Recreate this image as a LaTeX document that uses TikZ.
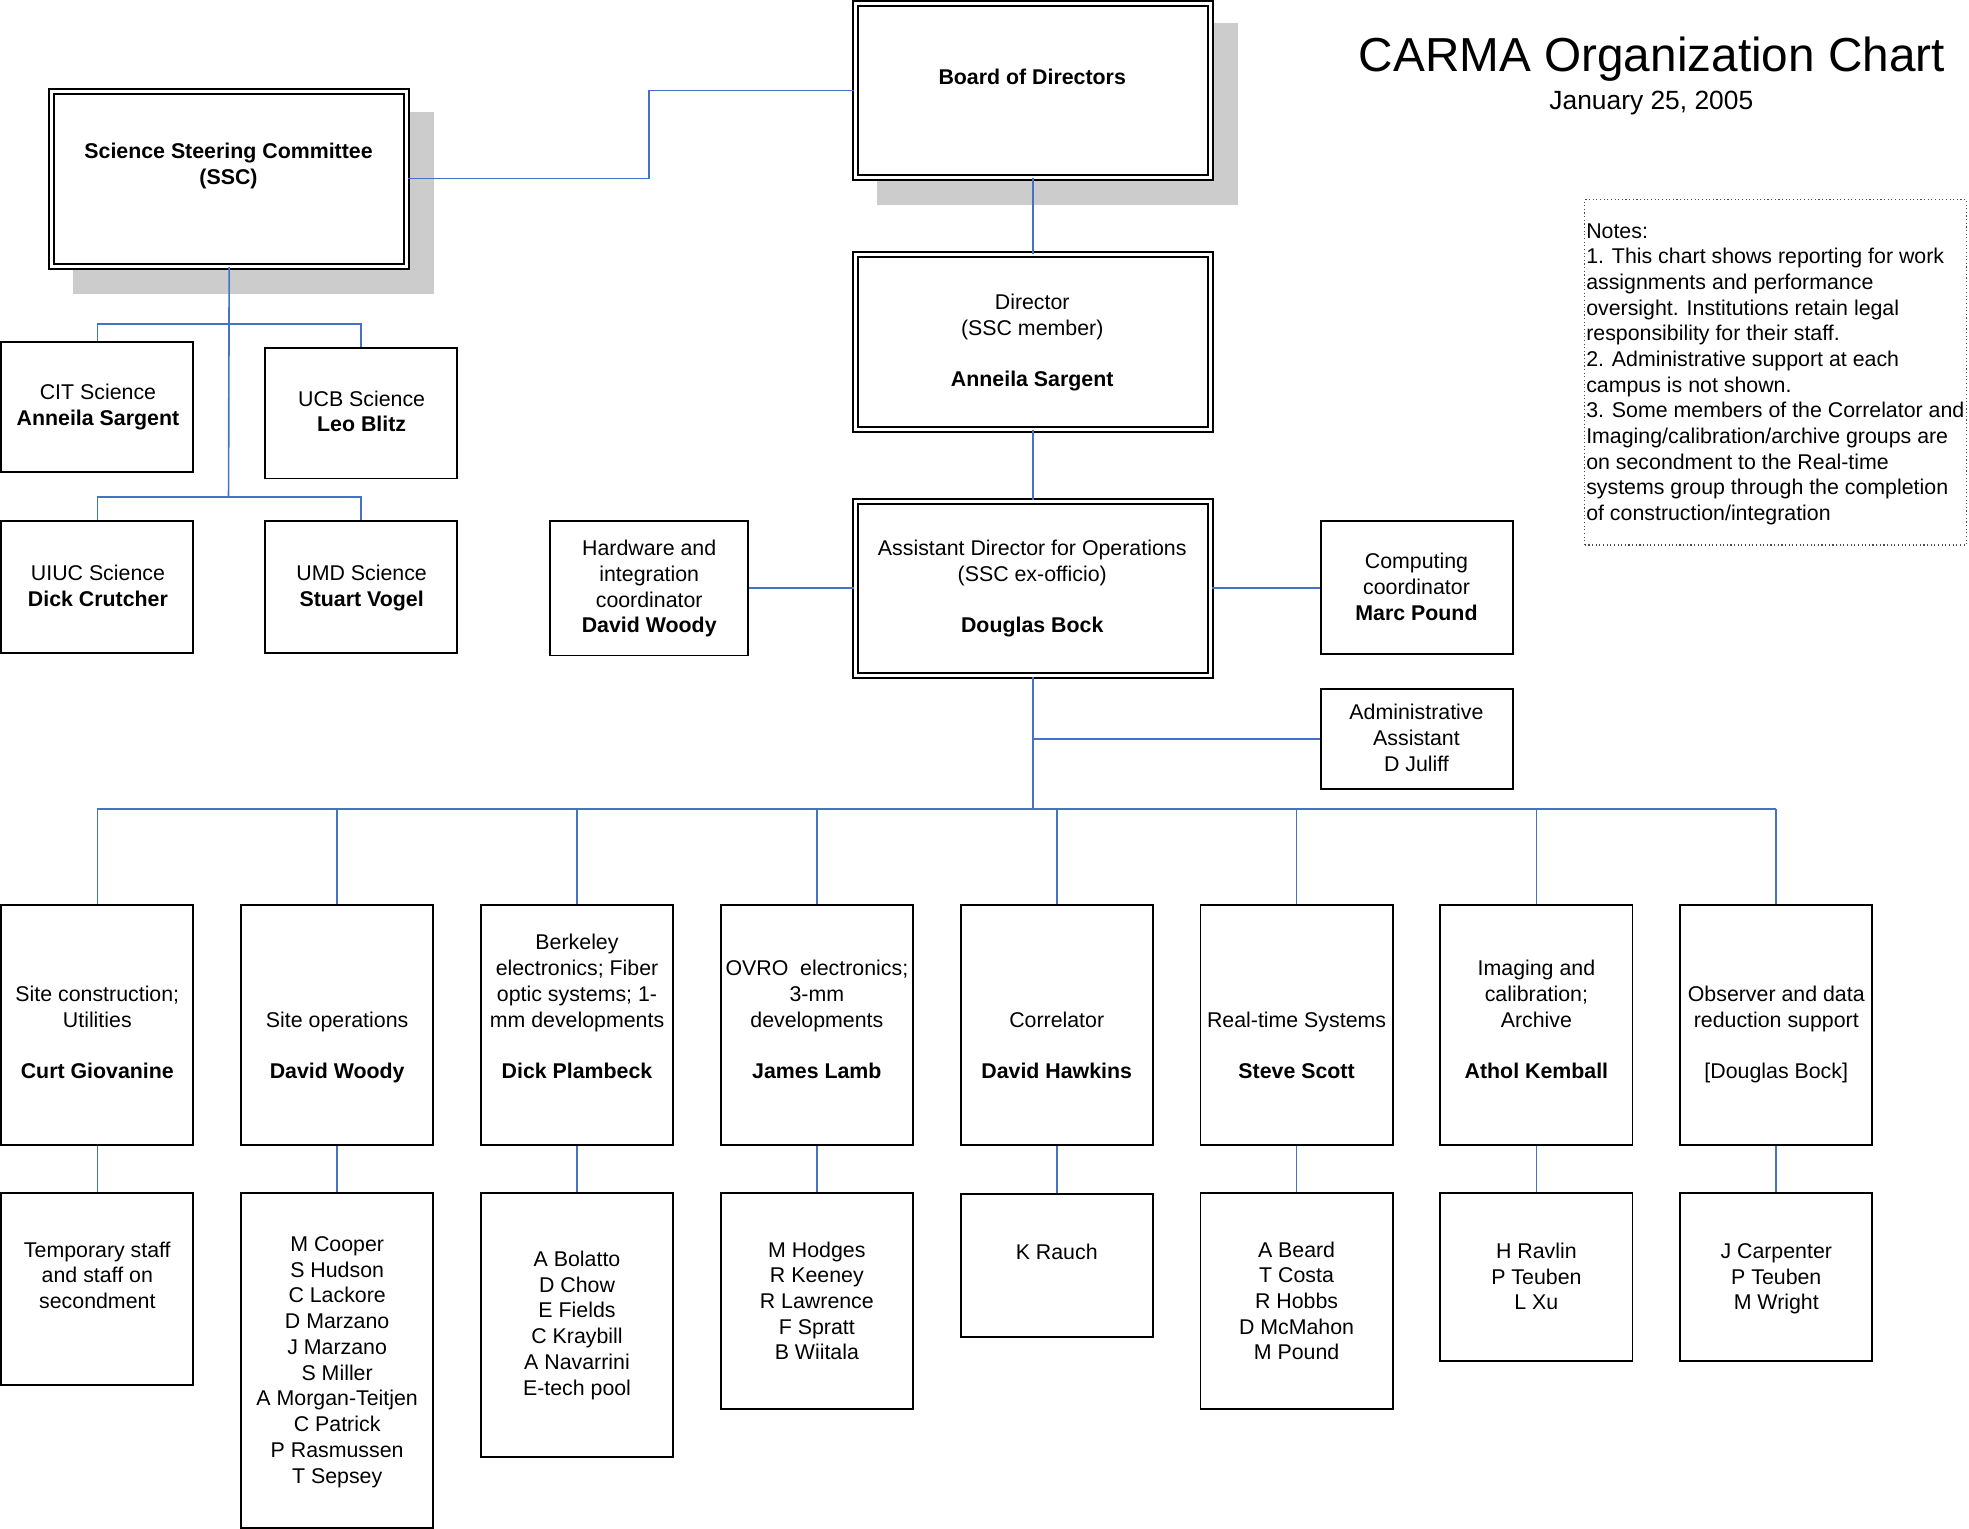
\documentclass[tikz,border=0pt]{standalone}
\usepackage{fontspec}
\setmainfont{Liberation Sans}
\usetikzlibrary{fit}
\definecolor{conn}{HTML}{4472C4}
\definecolor{shade}{HTML}{CCCCCC}
\tikzset{
  box/.style={draw=black, line width=1.5pt, inner sep=0pt, fill=white},
  dbox/.style={draw=black, line width=1.6pt, inner sep=0pt, fill=white,
    double=white, double distance=2.4pt},
  shadowbox/.style={fill=shade, draw=none, inner sep=0pt},
  txt/.style={font=\fontsize{17}{20.5}\selectfont, align=center, anchor=base, inner sep=0pt},
  conline/.style={draw=conn, line width=1.3pt},
  notebox/.style={draw=black!70, dotted, line width=0.9pt, inner sep=0pt},
}
\begin{document}
\begin{tikzpicture}[x=1pt,y=-1pt]
\useasboundingbox (0,0) rectangle (1568,1217.6);
% shadows
\node[shadowbox, fit={(58,89) (346,234)}] (sscsh) {};
\node[shadowbox, fit={(698,18) (986,163)}] (bodsh) {};
% top-level boxes
\node[dbox, fit={(41,73) (324,212)}] (ssc) {};
\node[dbox, fit={(681,3) (964,141)}] (bod) {};
\node[dbox, fit={(681,203) (964,342)}] (dir) {};
\node[dbox, fit={(681,399) (964,538)}] (ad) {};
\node[box, fit={(438,415) (596,522)}] (hw) {};
\node[box, fit={(1052,415) (1205,521)}] (comp) {};
\node[box, fit={(1052,549) (1205,628)}] (adm) {};
\node[box, fit={(1,272) (154,376)}] (cit) {};
\node[box, fit={(211,277) (364,381)}] (ucb) {};
\node[box, fit={(1,415) (154,520)}] (uiuc) {};
\node[box, fit={(211,415) (364,520)}] (umd) {};
% texts top (anchor = baseline of last line)
\node[txt] (tssc) at (182,147) {\textbf{Science Steering Committee}\\\textbf{(SSC)}};
\node[txt] (tbod) at (822,67) {\textbf{Board of Directors}};
\node[txt] (tdir) at (822,308) {Director\\(SSC member)\\[20.5pt]\textbf{Anneila Sargent}};
\node[txt] (tad) at (822,504) {Assistant Director for Operations\\(SSC ex-officio)\\[20.5pt]\textbf{Douglas Bock}};
\node[txt] (thw) at (517,504) {Hardware and\\integration\\coordinator\\\textbf{David Woody}};
\node[txt] (tcomp) at (1128,494) {Computing\\coordinator\\\textbf{Marc Pound}};
\node[txt] (tadm) at (1128,614) {Administrative\\Assistant\\D Juliff};
\node[txt] (tcit) at (78,339) {CIT Science\\\textbf{Anneila Sargent}};
\node[txt] (tucb) at (288,344) {UCB Science\\\textbf{Leo Blitz}};
\node[txt] (tuiuc) at (78,483) {UIUC Science\\\textbf{Dick Crutcher}};
\node[txt] (tumd) at (288,483) {UMD Science\\\textbf{Stuart Vogel}};
% title and notes
\node[anchor=base, inner sep=0pt, font=\fontsize{38}{44}\selectfont] (title) at (1315.5,57) {CARMA Organization Chart};
\node[anchor=base, inner sep=0pt, font=\fontsize{21}{25}\selectfont] (date) at (1315,87) {January 25, 2005};
\node[notebox, fit={(1262,159) (1566,434)}] (notes) {};
\node[txt, align=left, anchor=base west, font=\fontsize{17}{20.45}\selectfont] (tnotes) at (1263,414.5) {Notes:\\1. This chart shows reporting for work\\assignments and performance\\oversight. Institutions retain legal\\responsibility for their staff.\\2. Administrative support at each\\campus is not shown.\\3. Some members of the Correlator and\\Imaging/calibration/archive groups are\\on secondment to the Real-time\\systems group through the completion\\of construction/integration};
% row boxes
\foreach \i/\x in {1/1,2/192,3/383,4/574,5/765,6/956,7/1147,8/1338}{
  \node[box, fit={(\x,721) (\x+153,912)}] (r\i) {};
}
\node[box, fit={(1,950) (154,1103)}] (s1) {};
\node[box, fit={(192,950) (345,1217)}] (s2) {};
\node[box, fit={(383,950) (536,1160)}] (s3) {};
\node[box, fit={(574,950) (727,1122)}] (s4) {};
\node[box, fit={(765,951) (918,1065)}] (s5) {};
\node[box, fit={(956,950) (1109,1122)}] (s6) {};
\node[box, fit={(1147,950) (1300,1084)}] (s7) {};
\node[box, fit={(1338,950) (1491,1084)}] (s8) {};
% row texts
\node[txt] (tr1) at (77.5,859) {Site construction;\\Utilities\\[20.5pt]\textbf{Curt Giovanine}};
\node[txt] (tr2) at (268.5,859) {Site operations\\[20.5pt]\textbf{David Woody}};
\node[txt] (tr3) at (459.5,859) {Berkeley\\electronics; Fiber\\optic systems; 1-\\mm developments\\[20.5pt]\textbf{Dick Plambeck}};
\node[txt] (tr4) at (650.5,859) {OVRO\ \ electronics;\\3-mm\\developments\\[20.5pt]\textbf{James Lamb}};
\node[txt] (tr5) at (841.5,859) {Correlator\\[20.5pt]\textbf{David Hawkins}};
\node[txt] (tr6) at (1032.5,859) {Real-time Systems\\[20.5pt]\textbf{Steve Scott}};
\node[txt] (tr7) at (1223.5,859) {Imaging and\\calibration;\\Archive\\[20.5pt]\textbf{Athol Kemball}};
\node[txt] (tr8) at (1414.5,859) {Observer and data\\reduction support\\[20.5pt][Douglas Bock]};
% sub texts
\node[txt] (ts1) at (77.5,1042) {Temporary staff\\and staff on\\secondment};
\node[txt] (ts2) at (268.5,1181) {M Cooper\\S Hudson\\C Lackore\\D Marzano\\J Marzano\\S Miller\\A Morgan-Teitjen\\C Patrick\\P Rasmussen\\T Sepsey};
\node[txt] (ts3) at (459.5,1111) {A Bolatto\\D Chow\\E Fields\\C Kraybill\\A Navarrini\\E-tech pool};
\node[txt] (ts4) at (650.5,1083) {M Hodges\\R Keeney\\R Lawrence\\F Spratt\\B Wiitala};
\node[txt] (ts5) at (841.5,1003) {K Rauch};
\node[txt] (ts6) at (1032.5,1083) {A Beard\\T Costa\\R Hobbs\\D McMahon\\M Pound};
\node[txt] (ts7) at (1223.5,1043) {H Ravlin\\P Teuben\\L Xu};
\node[txt] (ts8) at (1414.5,1043) {J Carpenter\\P Teuben\\M Wright};
% connectors
\coordinate (jA) at (517,142);
\coordinate (jB) at (517,72);
\draw[conline] (ssc.east |- jA) -- (jA) -- (jB) -- (bod.west |- jB);
\draw[conline] (bod.south) -- (dir.north);
\draw[conline] (dir.south) -- (ad.north);
\draw[conline] (hw.east |- 0,468) -- (ad.west |- 0,468);
\draw[conline] (ad.east |- 0,468) -- (comp.west |- 0,468);
\draw[conline] (ad.south) -- (ad.south |- 0,644);
\draw[conline] (ad.south |- adm.west) -- (adm.west);
\coordinate (b1) at (182,258);
\coordinate (b2) at (182,396);
\draw[conline] (ssc.south) -- (b2);
\draw[conline] (cit.north) -- (cit.north |- b1) -- (ucb.north |- b1) -- (ucb.north);
\draw[conline] (uiuc.north) -- (uiuc.north |- b2) -- (umd.north |- b2) -- (umd.north);
\coordinate (bus) at (0,644);
\draw[conline] (r1.north |- bus) -- (r8.north |- bus);
\foreach \i in {1,...,8}{
  \draw[conline] (r\i.north |- bus) -- (r\i.north);
  \draw[conline] (r\i.south) -- (s\i.north);
}
\end{tikzpicture}
\end{document}
